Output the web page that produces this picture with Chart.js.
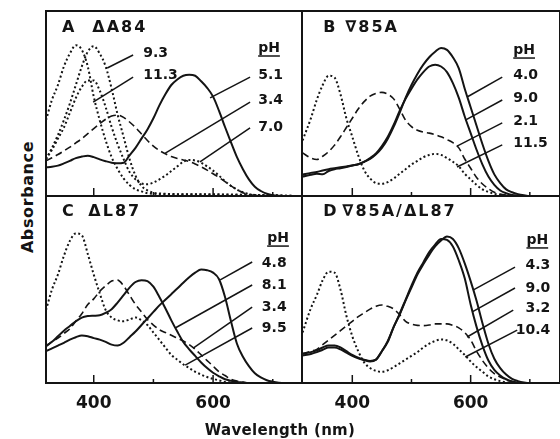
<!DOCTYPE html>
<html>
<head>
<meta charset="utf-8">
<script src="https://cdn.jsdelivr.net/npm/chart.js@4.4.0/dist/chart.umd.min.js"></script>
<style>
  body { margin: 0; background: #fff; }
  #fig { position: relative; width: 560px; height: 439px; overflow: hidden; background: #fff; }
  #fig canvas { position: absolute; }
  .lab { position: absolute; font-family: "DejaVu Sans"; font-weight: bold; color: #141414; white-space: nowrap; }
  #ylab { left: 27px; top: 197px; font-size: 16px; letter-spacing: 0.6px; transform: translate(-50%, -50%) rotate(-90deg); }
  #xlab { left: 280px; top: 430px; font-size: 15px; letter-spacing: 0.3px; transform: translate(-50%, -50%); }
</style>
</head>
<body>
<div id="fig">
  <canvas id="panelA" width="268" height="197" style="left:40px;top:5px"></canvas>
  <canvas id="panelB" width="270" height="197" style="left:296px;top:5px"></canvas>
  <canvas id="panelC" width="268" height="233" style="left:40px;top:190px"></canvas>
  <canvas id="panelD" width="270" height="233" style="left:296px;top:190px"></canvas>
  <div class="lab" id="ylab">Absorbance</div>
  <div class="lab" id="xlab">Wavelength (nm)</div>
</div>
<script>
// wavelength grids (nm)
const wlLeft = [320, 330, 340, 350, 360, 370, 380, 390, 400, 410, 420, 430, 440, 450, 460, 470, 480, 490, 500, 510,
  520, 530, 540, 550, 560, 570, 580, 590, 600, 610, 620, 630, 640, 650, 660, 670, 680, 690, 700, 710, 720, 730, 740];
const wlRight = [316, 330, 340, 350, 360, 370, 380, 390, 400, 410, 420, 430, 440, 450, 460, 470, 480, 490, 500, 510,
  520, 530, 540, 550, 560, 570, 580, 590, 600, 610, 620, 630, 640, 650, 660, 670, 680, 690, 700, 710, 720, 730, 740];

const tickWl = [400, 500, 600, 700];
const labelledWl = [400, 600];

// A  dA84
const a51 = [0.155, 0.158, 0.164, 0.176, 0.19, 0.205, 0.213, 0.218, 0.21, 0.198,
  0.188, 0.18, 0.177, 0.18, 0.22, 0.26, 0.31, 0.36, 0.42, 0.49,
  0.55, 0.6, 0.63, 0.65, 0.655, 0.65, 0.62, 0.585, 0.537, 0.46,
  0.373, 0.29, 0.21, 0.145, 0.09, 0.05, 0.027, 0.012, 0.004, 0.001, 0, 0, 0];
const a34 = [0.19, 0.207, 0.224, 0.244, 0.264, 0.287, 0.31, 0.337, 0.364, 0.39,
  0.415, 0.432, 0.437, 0.425, 0.4, 0.37, 0.335, 0.3, 0.27, 0.246,
  0.228, 0.213, 0.203, 0.195, 0.186, 0.173, 0.158, 0.14, 0.12, 0.1,
  0.078, 0.055, 0.035, 0.018, 0.009, 0.004, 0.001, 0, 0, 0, 0, 0, 0];
const a70 = [0.2, 0.25, 0.31, 0.37, 0.45, 0.53, 0.59, 0.625, 0.625, 0.57,
  0.48, 0.373, 0.28, 0.2, 0.13, 0.09, 0.068, 0.064, 0.073, 0.09,
  0.11, 0.135, 0.16, 0.185, 0.195, 0.192, 0.18, 0.16, 0.137, 0.11,
  0.08, 0.055, 0.035, 0.02, 0.01, 0.005, 0.002, 0, 0, 0, 0, 0, 0];
const a93 = [0.2, 0.26, 0.33, 0.41, 0.5, 0.6, 0.7, 0.78, 0.81, 0.77,
  0.7, 0.58, 0.44, 0.32, 0.2, 0.11, 0.055, 0.03, 0.018, 0.014,
  0.012, 0.011, 0.01, 0.01, 0.01, 0.01, 0.01, 0.009, 0.009, 0.009,
  0.008, 0.008, 0.008, 0.007, 0.007, 0.006, 0.006, 0.005, 0.004, 0.003, 0.002, 0.001, 0];
const a113 = [0.41, 0.52, 0.6, 0.7, 0.77, 0.815, 0.79, 0.7, 0.537, 0.41,
  0.3, 0.21, 0.146, 0.095, 0.06, 0.036, 0.025, 0.015, 0.012, 0.01,
  0.009, 0.008, 0.008, 0.008, 0.008, 0.008, 0.008, 0.007, 0.007, 0.007,
  0.007, 0.006, 0.006, 0.006, 0.006, 0.005, 0.005, 0.004, 0.004, 0.003, 0.002, 0.001, 0];

// B  V85A
const b40 = [0.115, 0.125, 0.13, 0.138, 0.145, 0.15, 0.155, 0.16, 0.165, 0.172,
  0.185, 0.2, 0.225, 0.26, 0.31, 0.375, 0.45, 0.53, 0.6, 0.66,
  0.71, 0.75, 0.78, 0.8, 0.79, 0.75, 0.69, 0.58, 0.48, 0.38,
  0.28, 0.19, 0.117, 0.07, 0.036, 0.02, 0.01, 0.004, 0, 0, 0, 0, 0];
const b90 = [0.105, 0.115, 0.12, 0.118, 0.135, 0.145, 0.15, 0.157, 0.165, 0.172,
  0.185, 0.205, 0.23, 0.27, 0.32, 0.385, 0.46, 0.525, 0.58, 0.63,
  0.67, 0.7, 0.71, 0.7, 0.67, 0.61, 0.53, 0.43, 0.34, 0.25,
  0.17, 0.105, 0.06, 0.03, 0.015, 0.006, 0.002, 0, 0, 0, 0, 0, 0];
const b21 = [0.233, 0.205, 0.197, 0.215, 0.24, 0.275, 0.32, 0.37, 0.42, 0.47,
  0.51, 0.54, 0.555, 0.56, 0.55, 0.525, 0.47, 0.41, 0.375, 0.355,
  0.345, 0.34, 0.332, 0.32, 0.305, 0.288, 0.26, 0.2, 0.15, 0.1,
  0.065, 0.04, 0.02, 0.01, 0.005, 0.002, 0, 0, 0, 0, 0, 0, 0];
const b115 = [0.3, 0.42, 0.52, 0.6, 0.65, 0.64, 0.55, 0.42, 0.32, 0.22,
  0.14, 0.095, 0.07, 0.066, 0.075, 0.095, 0.12, 0.145, 0.17, 0.19,
  0.21, 0.222, 0.228, 0.222, 0.205, 0.185, 0.16, 0.12, 0.09, 0.06,
  0.036, 0.022, 0.012, 0.006, 0.002, 0, 0, 0, 0, 0, 0, 0, 0];

// C  dL87
const c48 = [0.17, 0.185, 0.2, 0.215, 0.232, 0.245, 0.254, 0.25, 0.24, 0.232,
  0.22, 0.205, 0.2, 0.215, 0.245, 0.275, 0.31, 0.345, 0.38, 0.415,
  0.445, 0.475, 0.505, 0.536, 0.565, 0.59, 0.607, 0.603, 0.59, 0.555,
  0.46, 0.33, 0.21, 0.14, 0.09, 0.052, 0.03, 0.015, 0.007, 0.002, 0, 0, 0];
const c81 = [0.196, 0.22, 0.25, 0.28, 0.305, 0.33, 0.35, 0.358, 0.36, 0.362,
  0.375, 0.395, 0.43, 0.47, 0.51, 0.54, 0.55, 0.545, 0.515, 0.46,
  0.4, 0.335, 0.275, 0.22, 0.18, 0.145, 0.11, 0.08, 0.055, 0.036,
  0.02, 0.012, 0.006, 0.003, 0, 0, 0, 0, 0, 0, 0, 0, 0];
const c34 = [0.2, 0.22, 0.24, 0.265, 0.29, 0.33, 0.37, 0.42, 0.45, 0.49,
  0.52, 0.545, 0.55, 0.52, 0.47, 0.42, 0.38, 0.34, 0.31, 0.285,
  0.27, 0.255, 0.24, 0.225, 0.205, 0.18, 0.15, 0.12, 0.09, 0.06,
  0.04, 0.02, 0.01, 0.005, 0, 0, 0, 0, 0, 0, 0, 0, 0];
const c95 = [0.39, 0.5, 0.58, 0.68, 0.76, 0.8, 0.79, 0.69, 0.58, 0.48,
  0.39, 0.35, 0.335, 0.33, 0.34, 0.35, 0.335, 0.31, 0.27, 0.23,
  0.19, 0.15, 0.125, 0.1, 0.08, 0.06, 0.045, 0.032, 0.022, 0.014,
  0.006, 0.002, 0, 0, 0, 0, 0, 0, 0, 0, 0, 0, 0];

// D  V85A/dL87
const d43 = [0.156, 0.165, 0.175, 0.19, 0.2, 0.2, 0.19, 0.17, 0.15, 0.135,
  0.125, 0.118, 0.125, 0.17, 0.22, 0.3, 0.365, 0.44, 0.51, 0.58,
  0.635, 0.685, 0.73, 0.762, 0.783, 0.77, 0.72, 0.64, 0.545, 0.44,
  0.32, 0.21, 0.13, 0.08, 0.045, 0.022, 0.01, 0.003, 0, 0, 0, 0, 0];
const d90 = [0.147, 0.155, 0.165, 0.178, 0.19, 0.19, 0.18, 0.162, 0.145, 0.132,
  0.122, 0.115, 0.125, 0.17, 0.225, 0.3, 0.37, 0.445, 0.52, 0.59,
  0.645, 0.7, 0.74, 0.77, 0.765, 0.73, 0.655, 0.56, 0.42, 0.3,
  0.2, 0.12, 0.07, 0.04, 0.02, 0.008, 0.002, 0, 0, 0, 0, 0, 0];
const d32 = [0.156, 0.17, 0.18, 0.205, 0.23, 0.255, 0.28, 0.305, 0.33, 0.355,
  0.375, 0.395, 0.41, 0.417, 0.41, 0.396, 0.365, 0.33, 0.315, 0.308,
  0.307, 0.31, 0.316, 0.316, 0.316, 0.308, 0.295, 0.27, 0.23, 0.17,
  0.12, 0.08, 0.05, 0.032, 0.018, 0.008, 0.003, 0, 0, 0, 0, 0, 0];
const d104 = [0.27, 0.4, 0.47, 0.55, 0.595, 0.59, 0.5, 0.36, 0.25, 0.17,
  0.11, 0.08, 0.065, 0.06, 0.068, 0.085, 0.105, 0.125, 0.145, 0.165,
  0.19, 0.21, 0.225, 0.233, 0.228, 0.21, 0.18, 0.15, 0.115, 0.085,
  0.06, 0.035, 0.02, 0.01, 0.004, 0, 0, 0, 0, 0, 0, 0, 0];

const ink = '#141414';

const lineStyle = {
  solid: {borderWidth: 2, borderDash: []},
  dashed: {borderWidth: 1.6, borderDash: [7, 4]},
  dotted: {borderWidth: 2, borderDash: [2, 2.5]}
};

// panel titles, pH labels and leader lines, placed in data units
const decor = {
  panelA: {
    title: [['A', 347, 0.908], ['ΔA84', 397.5, 0.908]],
    notes: [
      {text: '9.3', at: [483, 0.773], from: [466, 0.762], to: [422.6, 0.692]},
      {text: '11.3', at: [483, 0.654], from: [466, 0.643], to: [399, 0.508]},
      {text: 'pH', at: [675.5, 0.8], underline: true},
      {text: '5.1', at: [675.5, 0.654], from: [662, 0.643], to: [595, 0.53]},
      {text: '3.4', at: [675.5, 0.519], from: [662, 0.508], to: [520, 0.232]},
      {text: '7.0', at: [675.5, 0.373], from: [662, 0.368], to: [578, 0.184]}
    ]
  },
  panelB: {
    title: [['B', 351, 0.908], ['∇85A', 388, 0.908]],
    notes: [
      {text: 'pH', at: [672, 0.789], underline: true},
      {text: '4.0', at: [672, 0.654], from: [653.4, 0.643], to: [594, 0.535]},
      {text: '9.0', at: [672, 0.53], from: [653.4, 0.519], to: [591, 0.41]},
      {text: '2.1', at: [672, 0.405], from: [653.4, 0.395], to: [577, 0.27]},
      {text: '11.5', at: [672, 0.286], from: [653.4, 0.276], to: [577, 0.157]}
    ]
  },
  panelC: {
    title: [['C', 347, 0.914], ['ΔL87', 391, 0.914]],
    notes: [
      {text: 'pH', at: [690.6, 0.775], underline: true},
      {text: '4.8', at: [681.7, 0.642], from: [665.5, 0.647], to: [611.9, 0.551]},
      {text: '8.1', at: [681.7, 0.524], from: [665.5, 0.524], to: [536.5, 0.294]},
      {text: '3.4', at: [681.7, 0.406], from: [665.5, 0.406], to: [566.7, 0.187]},
      {text: '9.5', at: [681.7, 0.294], from: [665.5, 0.294], to: [553.3, 0.096]}
    ]
  },
  panelD: {
    title: [['D', 351, 0.914], ['∇85A/ΔL87', 383, 0.914]],
    notes: [
      {text: 'pH', at: [731, 0.765], underline: true, align: 'right'},
      {text: '4.3', at: [734.5, 0.631], from: [675, 0.62], to: [604, 0.497], align: 'right'},
      {text: '9.0', at: [734.5, 0.508], from: [675, 0.508], to: [602.7, 0.38], align: 'right'},
      {text: '3.2', at: [734.5, 0.401], from: [672, 0.39], to: [594, 0.246], align: 'right'},
      {text: '10.4', at: [734.5, 0.283], from: [678.7, 0.283], to: [591, 0.139], align: 'right'}
    ]
  }
};

const panelDecor = {
  id: 'panelDecor',
  afterDatasetsDraw(chart) {
    const {ctx, chartArea: ca} = chart;
    const x = chart.scales.x, y = chart.scales.y;
    const d = decor[chart.canvas.id];
    const px = v => x.getPixelForValue(v);
    const py = v => y.getPixelForValue(v);
    ctx.save();
    ctx.strokeStyle = ink;
    ctx.fillStyle = ink;
    ctx.setLineDash([]);

    // inward tick marks on the wavelength axis
    ctx.lineWidth = 1.5;
    tickWl.forEach(v => {
      const len = labelledWl.includes(v) ? 8 : 4;
      ctx.beginPath();
      ctx.moveTo(px(v), ca.bottom);
      ctx.lineTo(px(v), ca.bottom - len);
      ctx.stroke();
    });

    // frame
    ctx.lineWidth = 2;
    ctx.strokeRect(ca.left, ca.top, ca.width, ca.height);

    // title
    ctx.textBaseline = 'middle';
    ctx.textAlign = 'left';
    ctx.font = 'bold 16px "DejaVu Sans"';
    ctx.letterSpacing = '2px';
    d.title.forEach(([t, w, a]) => ctx.fillText(t, px(w), py(a)));

    // pH labels with leader lines
    ctx.font = 'bold 14px "DejaVu Sans"';
    ctx.letterSpacing = '0px';
    ctx.lineWidth = 1.5;
    d.notes.forEach(n => {
      const tx = px(n.at[0]), ty = py(n.at[1]);
      ctx.textAlign = n.align || 'left';
      ctx.fillText(n.text, tx, ty);
      if (n.underline) {
        const w = ctx.measureText(n.text).width;
        const x0 = n.align === 'right' ? tx - w : tx;
        ctx.beginPath();
        ctx.moveTo(x0, ty + 8);
        ctx.lineTo(x0 + w, ty + 8);
        ctx.stroke();
      }
      if (n.from) {
        ctx.beginPath();
        ctx.moveTo(px(n.from[0]), py(n.from[1]));
        ctx.lineTo(px(n.to[0]), py(n.to[1]));
        ctx.stroke();
      }
    });
    ctx.restore();
  }
};

function makePanel(id, wl, series, xMin, xMax, showLabels) {
  return new Chart(document.getElementById(id), {
    type: 'line',
    data: {
      datasets: series.map(([vals, style]) => ({
        data: wl.map((w, i) => ({x: w, y: vals[i]})),
        borderColor: ink,
        borderWidth: lineStyle[style].borderWidth,
        borderDash: lineStyle[style].borderDash,
        pointRadius: 0,
        fill: false,
        cubicInterpolationMode: 'monotone'
      }))
    },
    options: {
      responsive: false,
      animation: false,
      devicePixelRatio: 1,
      layout: {padding: {left: 6, right: 6, top: 6, bottom: showLabels ? 0 : 6}},
      plugins: {legend: {display: false}, tooltip: {enabled: false}},
      scales: {
        x: {
          type: 'linear',
          min: xMin,
          max: xMax,
          display: showLabels,
          grid: {display: false},
          border: {display: false},
          afterBuildTicks: s => { s.ticks = tickWl.map(v => ({value: v})); },
          afterFit: s => { s.height = showLabels ? 40 : 0; },
          ticks: {
            autoSkip: false,
            maxRotation: 0,
            padding: 2,
            color: ink,
            font: {family: 'DejaVu Sans', size: 17, weight: 'bold'},
            callback: v => labelledWl.includes(v) ? String(v) : ''
          }
        },
        y: {display: false, min: 0, max: 1}
      }
    },
    plugins: [panelDecor]
  });
}

makePanel('panelA', wlLeft, [[a51, 'solid'], [a34, 'dashed'], [a70, 'dotted'], [a93, 'dotted'], [a113, 'dotted']], 320, 749, false);
makePanel('panelB', wlRight, [[b40, 'solid'], [b90, 'solid'], [b21, 'dashed'], [b115, 'dotted']], 315, 751, false);
makePanel('panelC', wlLeft, [[c48, 'solid'], [c81, 'solid'], [c34, 'dashed'], [c95, 'dotted']], 320, 749, true);
makePanel('panelD', wlRight, [[d43, 'solid'], [d90, 'solid'], [d32, 'dashed'], [d104, 'dotted']], 315, 751, true);
</script>
</body>
</html>
